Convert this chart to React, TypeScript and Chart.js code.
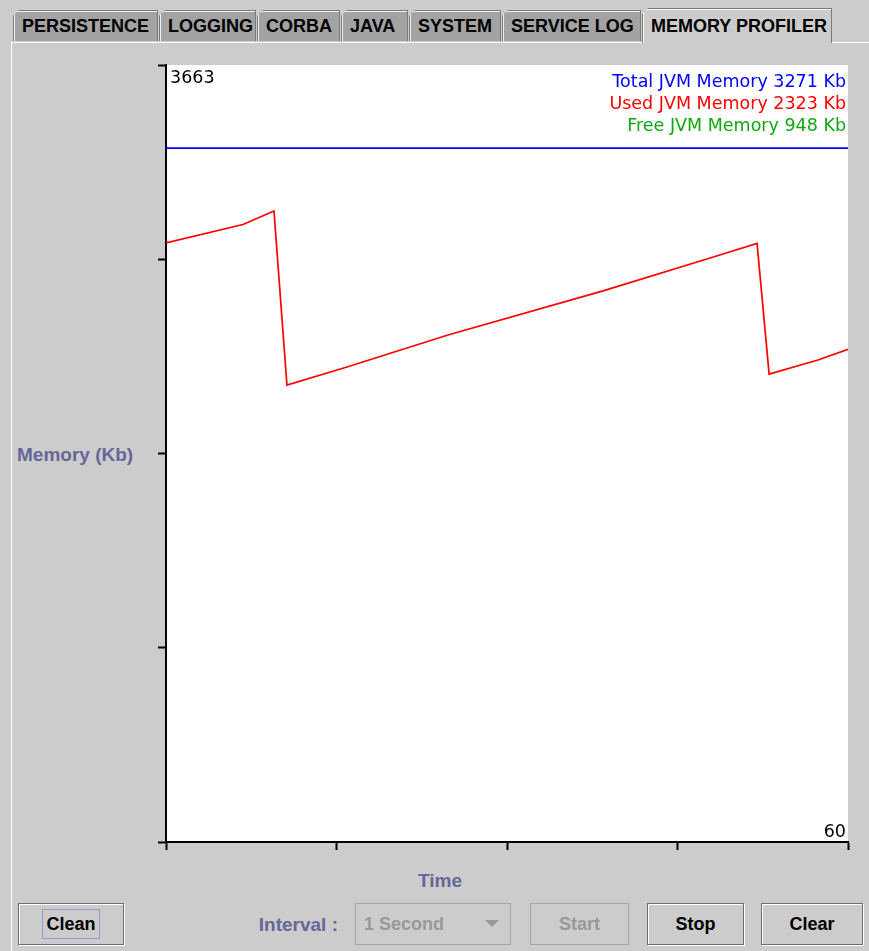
import React, { useEffect, useRef } from "react";
import { Chart, registerables } from "chart.js";

Chart.register(...registerables);

// ---- data ----
const tabLabels = ["PERSISTENCE", "LOGGING", "CORBA", "JAVA", "SYSTEM", "SERVICE LOG", "MEMORY PROFILER"];
const selectedTab = "MEMORY PROFILER";

const timeSeconds = [0, 6.77, 9.5, 10.64, 15.92, 24.81, 38.45, 48.3, 52.0, 53.06, 57.36, 60];
const usedMemoryKb = [2824, 2911, 2975, 2154, 2239, 2390, 2598, 2760, 2822, 2206, 2272, 2323];

const totalTimeSeconds = [0, 60];
const totalMemoryKb = [3271, 3271];

const memoryTicksKb = [0, 915.75, 1831.5, 2747.25, 3663];
const timeTicksSeconds = [0, 15, 30, 45, 60];

const legendLabels = ["Total JVM Memory", "Used JVM Memory", "Free JVM Memory"];
const legendValuesKb = [3271, 2323, 948];
const legendColors = ["#0000ff", "#ff0000", "#10a810"];

// ---- layout constants ----
const BG = "#cccccc";
const LABEL_BLUE = "#666699";
const BOLD_FONT = 'bold 18px "Liberation Sans", Arial, sans-serif';
const LABEL_FONT = 'bold 19px "Liberation Sans", Arial, sans-serif';
const PLAIN_FONT = '17.5px "DejaVu Sans"';
const tabEdges = [13, 159, 257, 341, 409, 502, 642, 833];

const overlayPlugin = {
  id: "overlay",
  beforeDraw(chart: any) {
    const { ctx, chartArea: a } = chart;
    ctx.save();
    ctx.fillStyle = "#ffffff";
    ctx.fillRect(a.left, a.top, a.right - a.left, a.bottom - a.top);
    ctx.restore();
  },
  afterDraw(chart: any) {
    const { ctx, chartArea: a, scales } = chart;
    ctx.save();
    ctx.font = PLAIN_FONT;
    ctx.textBaseline = "middle";
    ctx.fillStyle = "#000000";
    ctx.textAlign = "left";
    ctx.fillText(String(scales.y.max), a.left + 4, a.top + 13.5);
    ctx.textAlign = "right";
    ctx.fillText(String(scales.x.max), a.right - 2, a.bottom - 10);
    legendLabels.forEach((label, i) => {
      ctx.fillStyle = legendColors[i];
      ctx.fillText(`${label} ${legendValuesKb[i]} Kb`, a.right - 2, a.top + 17 + i * 22.4);
    });
    ctx.restore();
  },
};

function MemoryChart() {
  const ref = useRef<HTMLCanvasElement>(null);
  useEffect(() => {
    if (!ref.current) return;
    const chart = new Chart(ref.current, {
      type: "line",
      data: {
        datasets: [
          {
            label: "Total JVM Memory",
            data: totalTimeSeconds.map((t, i) => ({ x: t, y: totalMemoryKb[i] })),
            borderColor: legendColors[0],
            borderWidth: 1.7,
            pointRadius: 0,
            tension: 0,
          },
          {
            label: "Used JVM Memory",
            data: timeSeconds.map((t, i) => ({ x: t, y: usedMemoryKb[i] })),
            borderColor: legendColors[1],
            borderWidth: 1.7,
            pointRadius: 0,
            tension: 0,
          },
        ],
      },
      options: {
        animation: false,
        responsive: false,
        events: [],
        layout: { padding: { left: 8, top: 10, right: 12, bottom: 10 } },
        plugins: { legend: { display: false }, tooltip: { enabled: false } },
        scales: {
          x: {
            type: "linear",
            min: 0,
            max: 60,
            afterBuildTicks: (s: any) => {
              s.ticks = timeTicksSeconds.map((v) => ({ value: v }));
            },
            ticks: { display: false },
            grid: { drawOnChartArea: false, drawTicks: true, tickLength: 8, tickColor: "#000", tickWidth: 2 },
            border: { display: true, color: "#000", width: 2 },
          },
          y: {
            type: "linear",
            min: 0,
            max: 3663,
            afterBuildTicks: (s: any) => {
              s.ticks = memoryTicksKb.map((v) => ({ value: v }));
            },
            ticks: { display: false },
            grid: { drawOnChartArea: false, drawTicks: true, tickLength: 8, tickColor: "#000", tickWidth: 2 },
            border: { display: true, color: "#000", width: 2 },
          },
        },
      },
      plugins: [overlayPlugin],
    } as any);
    return () => chart.destroy();
  }, []);
  return (
    <canvas
      ref={ref}
      width={710}
      height={805}
      style={{ position: "absolute", left: 150, top: 55, width: 710, height: 805 }}
    />
  );
}

function Button({ left, width, text, disabled, focused }: any) {
  return (
    <div
      style={{
        position: "absolute",
        left,
        top: 903,
        width: width - 2,
        height: 40,
        border: `1px solid ${disabled ? "#a6a6a6" : "#6e6e6e"}`,
        boxShadow: disabled ? "none" : "inset 1px 1px 0 #ffffff, 1px 1px 0 #ffffff",
        background: BG,
        display: "flex",
        alignItems: "center",
        justifyContent: "center",
        font: BOLD_FONT,
        color: disabled ? "#999999" : "#000000",
      }}
    >
      <span
        style={{
          padding: "4px 3px",
          border: focused ? "1px solid #9999cc" : "1px solid transparent",
          lineHeight: "20px",
        }}
      >
        {text}
      </span>
    </div>
  );
}

export default function App() {
  return (
    <div
      style={{
        position: "absolute",
        left: 0,
        top: 0,
        width: 869,
        height: 951,
        background: BG,
        overflow: "hidden",
        fontFamily: '"Liberation Sans", Arial, sans-serif',
      }}
    >
      {/* content panel */}
      <div
        style={{
          position: "absolute",
          left: 11,
          top: 42,
          width: 860,
          height: 912,
          borderTop: "1px solid #ffffff",
          borderLeft: "1px solid #ffffff",
          background: BG,
        }}
      />
      {/* tabs */}
      {tabLabels.map((label, i) => {
        const sel = label === selectedTab;
        const left = tabEdges[i];
        const width = tabEdges[i + 1] - tabEdges[i];
        return (
          <div
            key={label}
            style={{
              position: "absolute",
              left,
              top: sel ? 8 : 10,
              width: width - 1,
              height: sel ? 35 : 31,
              background: sel ? BG : "#a3a3a3",
              borderTop: "1px solid #7a7a7a",
              borderLeft: "1px solid #7a7a7a",
              borderRight: "1px solid #7a7a7a",
              boxShadow: "inset 1px 1px 0 rgba(255,255,255,0.85)",
              clipPath: "polygon(6px 0, 100% 0, 100% 100%, 0 100%, 0 6px)",
              display: "flex",
              alignItems: "center",
              paddingLeft: 8,
              boxSizing: "border-box",
              font: BOLD_FONT,
              color: "#000",
              whiteSpace: "nowrap",
            }}
          >
            {label}
          </div>
        );
      })}

      <MemoryChart />

      {/* axis titles */}
      <div
        style={{
          position: "absolute",
          left: 17,
          top: 444,
          font: LABEL_FONT,
          color: LABEL_BLUE,
          lineHeight: "22px",
          whiteSpace: "nowrap",
        }}
      >
        Memory (Kb)
      </div>
      <div
        style={{
          position: "absolute",
          left: 400,
          width: 80,
          textAlign: "center",
          top: 870,
          font: LABEL_FONT,
          color: LABEL_BLUE,
          lineHeight: "22px",
        }}
      >
        Time
      </div>

      {/* bottom controls */}
      <Button left={18} width={106} text="Clean" focused />
      <div
        style={{
          position: "absolute",
          left: 230,
          width: 108,
          textAlign: "right",
          top: 914,
          font: LABEL_FONT,
          color: LABEL_BLUE,
          lineHeight: "22px",
        }}
      >
        Interval :
      </div>
      <div
        style={{
          position: "absolute",
          left: 355,
          top: 903,
          width: 156,
          height: 42,
          border: "1px solid #a6a6a6",
          background: BG,
          font: BOLD_FONT,
          color: "#999999",
          display: "flex",
          alignItems: "center",
          paddingLeft: 8,
          boxSizing: "border-box",
        }}
      >
        <span style={{ flex: 1 }}>1 Second</span>
        <svg width="16" height="10" style={{ marginRight: 9 }}>
          <polygon points="0,1 14,1 7,8" fill="#999999" />
        </svg>
      </div>
      <Button left={530} width={99} text="Start" disabled />
      <Button left={647} width={97} text="Stop" />
      <Button left={761} width={102} text="Clear" />
    </div>
  );
}
